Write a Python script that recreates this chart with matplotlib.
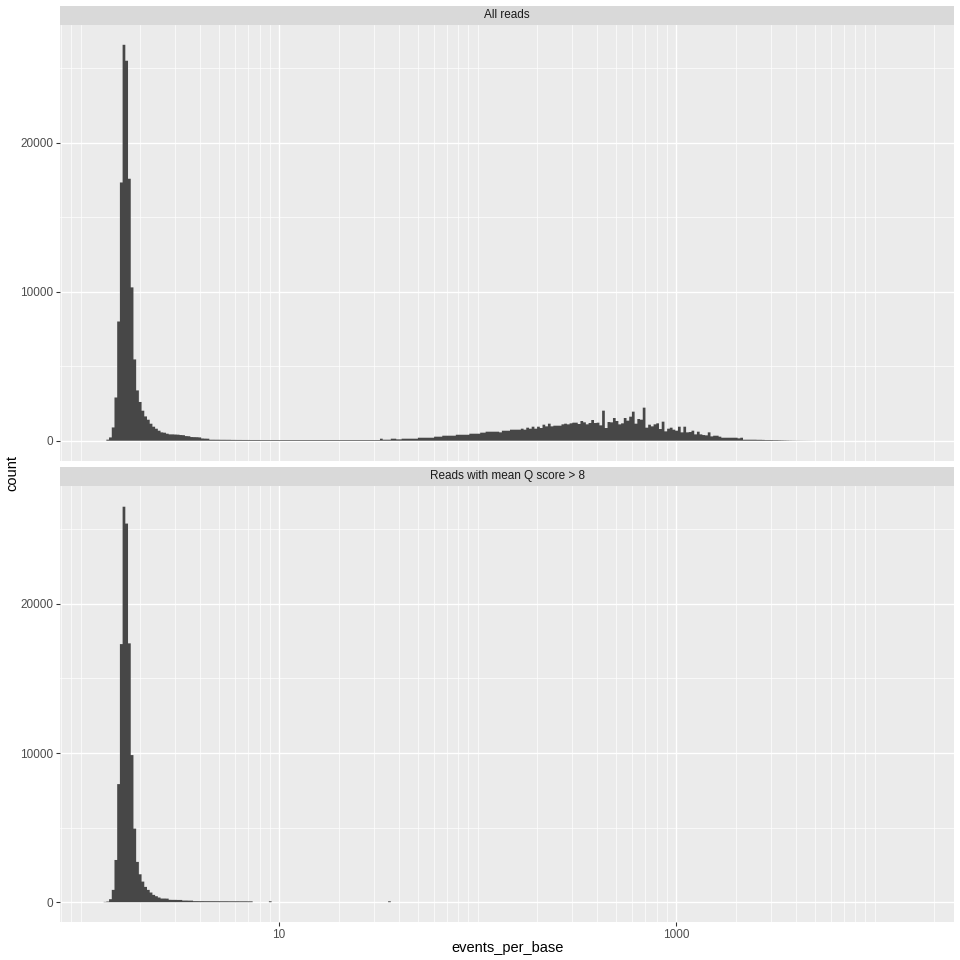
import matplotlib.pyplot as plt
from matplotlib.ticker import FixedLocator, NullFormatter
import numpy as np

plt.rcParams['font.family'] = ['Liberation Sans', 'DejaVu Sans']

# histogram bins (log10 spaced, like ggplot's bins=300 on scale_x_log10)
BIN_MIN = 1.267
BIN_MAX = 15740.0
N_BINS = 300

PANEL_TITLES = ["All reads", "Reads with mean Q score > 8"]
X_TITLE = "events_per_base"
Y_TITLE = "count"
X_BREAKS = [10, 1000]
X_LABELS = ["10", "1000"]
Y_BREAKS = [0, 10000, 20000]
Y_LABELS = ["0", "10000", "20000"]
Y_MINOR = [5000, 15000, 25000]

# counts per bin (bin 0 upward)
counts_all = (
    [0, 0, 70, 220, 890, 2900, 8000, 17330, 26570, 25500,
     17580, 10290, 5455, 3375, 2600, 2013, 1630, 1409, 1140, 940,
     805, 671, 560, 537, 470, 425, 425, 415, 405, 380,
     370, 310, 300, 245, 240, 235, 220, 150, 140, 135,
     67, 67, 65, 65, 62, 62, 60, 60, 55, 55,
     52, 52, 50, 50, 50, 48, 48, 48, 48, 45,
     45, 45, 45, 45, 45, 45, 45, 45, 45, 45,
     45, 45, 45, 45, 45, 45, 45, 45, 45, 45,
     45, 45, 45, 45, 45, 45, 45, 45, 45, 45,
     45, 45, 45, 45, 45, 45, 45, 45, 45, 45,
     45, 45, 45, 135, 67, 67, 67, 135, 135, 90,
     90, 135, 135, 135, 135, 135, 135, 200, 200, 200,
     200, 200, 200, 270, 270, 270, 336, 336, 336, 336,
     336, 400, 400, 400, 400, 400, 470, 470, 470, 470,
     540, 540, 605, 605, 605, 605, 605, 560, 670, 670,
     670, 740, 740, 740, 740, 806, 740, 874, 806, 940,
     806, 940, 851, 1075, 963, 1142, 963, 1008, 1008, 1008,
     1098, 1142, 1098, 1165, 1210, 1210, 1120, 1322, 1232, 1098,
     1187, 1389, 1187, 1210, 1030, 2016, 851, 1254, 1232, 1523,
     1322, 1098, 1165, 1523, 1344, 1613, 1949, 1142, 1456, 1411,
     2218, 874, 1075, 963, 1098, 1165, 784, 1277, 627, 806,
     874, 740, 672, 940, 560, 940, 560, 582, 672, 425,
     605, 425, 380, 358, 560, 290, 336, 336, 270, 200,
     200, 200, 200, 200, 200, 157, 200, 67, 67, 67,
     67, 67, 60, 60, 55, 45, 45, 45, 40, 40,
     35, 30, 25, 20, 15, 12, 10, 8, 6, 5,
     4, 3, 2, 0, 0, 0, 0, 0, 0, 0,
     0, 0, 0, 0, 0, 0, 0, 0, 0, 0,
     0, 0, 0, 0, 0, 0, 0, 0, 0, 0,
     0, 0, 0, 0, 0, 0, 0, 0, 0, 0]
)

counts_q8 = (
    [0, 20, 45, 200, 825, 2830, 7915, 17300, 26510, 25380,
     17350, 9860, 4930, 2700, 1870, 1380, 1025, 825, 647, 490,
     400, 312, 245, 245, 240, 160, 156, 156, 150, 150,
     110, 110, 105, 105, 70, 70, 68, 68, 66, 66,
     65, 65, 64, 64, 62, 62, 62, 60, 60, 60,
     60, 58, 58, 58, 56, 56, 0, 0, 0, 0,
     0, 0, 60]
    + [0] * 43 + [60] + [0] * 193
)


def plot_events_hist():
    edges = np.geomspace(BIN_MIN, BIN_MAX, N_BINS + 1)
    lo, hi = np.log10(BIN_MIN), np.log10(BIN_MAX)
    pad = 0.05 * (hi - lo)
    xlim = (10 ** (lo - pad), 10 ** (hi + pad))
    ymax = max(max(counts_all), max(counts_q8))
    ylim = (-0.05 * ymax, 1.05 * ymax)

    minor_x = [d * 10.0 ** k for k in range(-1, 5) for d in range(1, 10)]
    minor_x = [v for v in minor_x if xlim[0] < v < xlim[1] and v not in X_BREAKS]

    fig = plt.figure(figsize=(9.6, 9.6), dpi=100)
    W = 960.0
    left, right = 60.3, 954.3
    panels = [(25.0, 460.5, 6.0), (486.0, 922.0, 467.0)]

    for i, (counts, title) in enumerate(zip([counts_all, counts_q8], PANEL_TITLES)):
        top, bot, strip_top = panels[i]
        ax = fig.add_axes([left / W, 1 - bot / W, (right - left) / W, (bot - top) / W])
        ax.set_facecolor('#EBEBEB')
        ax.set_xscale('log')
        # one filled outline for the whole histogram, so no seams between bins;
        # no snapping so the tiny tail bins fade out instead of a hard line
        hist = ax.stairs(counts, edges, fill=True, color='#474747', linewidth=0, zorder=3)
        hist.set_snap(False)
        ax.set_xlim(*xlim)
        ax.set_ylim(*ylim)

        ax.xaxis.set_major_locator(FixedLocator(X_BREAKS))
        ax.xaxis.set_minor_locator(FixedLocator(minor_x))
        ax.xaxis.set_minor_formatter(NullFormatter())
        ax.set_yticks(Y_BREAKS)
        ax.set_yticklabels(Y_LABELS)
        ax.yaxis.set_minor_locator(FixedLocator(Y_MINOR))
        ax.grid(which='major', color='white', linewidth=1.0, zorder=1)
        ax.grid(which='minor', color='white', linewidth=0.5, zorder=1)
        ax.set_axisbelow(True)
        for s in ax.spines.values():
            s.set_visible(False)
        ax.tick_params(which='minor', length=0)
        ax.tick_params(which='major', length=2.7, width=0.77, color='#333333',
                       labelcolor='#4D4D4D', labelsize=8.45, pad=2.2)
        if i == 0:
            ax.tick_params(axis='x', which='major', length=0, labelbottom=False)
        else:
            ax.set_xticklabels(X_LABELS)

        # facet strip
        sax = fig.add_axes([left / W, 1 - top / W, (right - left) / W, (top - strip_top) / W])
        sax.set_facecolor('#D9D9D9')
        sax.set_xticks([])
        sax.set_yticks([])
        for s in sax.spines.values():
            s.set_visible(False)
        sax.text(0.5, 0.5, title, ha='center', va='center', fontsize=8.45,
                 color='#1A1A1A', transform=sax.transAxes)

    fig.text(507.3 / W, 1 - 948 / W, X_TITLE, ha='center', va='center', fontsize=10.56)
    fig.text(12 / W, 1 - 473 / W, Y_TITLE, ha='center', va='center', rotation=90,
             fontsize=10.56)
    fig.savefig('out.png', dpi=100, facecolor='white')


plot_events_hist()
